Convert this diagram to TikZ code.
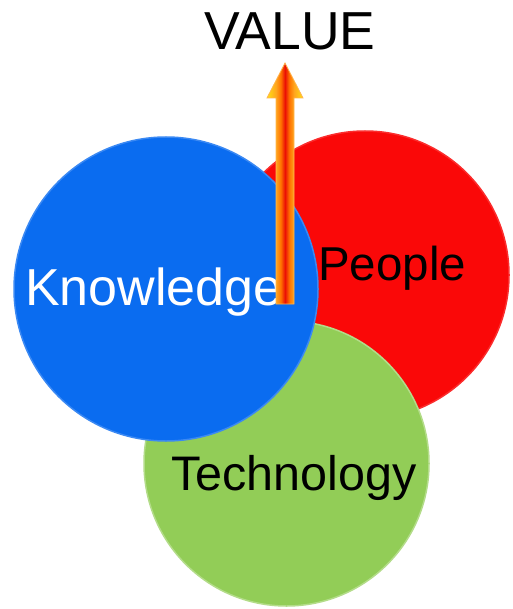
\documentclass[tikz,border=0pt]{standalone}
\usepackage{fontspec}
\setmainfont{Liberation Sans}
\definecolor{kblue}{RGB}{10,108,240}
\definecolor{pred}{RGB}{250,8,8}
\definecolor{tgreen}{RGB}{146,205,87}
\definecolor{arryellow}{RGB}{255,225,20}
\definecolor{arrorange}{RGB}{255,165,30}
\definecolor{arrdeep}{RGB}{255,115,0}
\definecolor{arrred}{RGB}{235,15,5}
\definecolor{arredge}{RGB}{255,180,80}
\pgfdeclarehorizontalshading{arrowshade}{100bp}{color(0bp)=(arryellow); color(25bp)=(arryellow); color(37.5bp)=(arrorange); color(44bp)=(arrdeep); color(50bp)=(arrred); color(56bp)=(arrdeep); color(62.5bp)=(arrorange); color(75bp)=(arryellow); color(100bp)=(arryellow)}
\begin{document}
\begin{tikzpicture}[x=1pt,y=-1pt,
  ball/.style={circle, inner sep=0pt, line width=1.5pt},
  lbl/.style={inner sep=0pt, anchor=base west}]
\useasboundingbox (0,0) rectangle (512,609);
% circles
\node[ball, fill=pred, draw=pred!85!white, minimum size=288pt] (people) at (365,275) {};
\node[ball, fill=tgreen, draw=tgreen!70!white, minimum size=285pt] (tech) at (286.5,463.5) {};
\node[ball, fill=kblue, draw=kblue!80!white, minimum size=304pt] (know) at (166,289) {};
% labels
\node[lbl, text=white, font=\fontsize{52}{60}\selectfont] (knowtxt) at (25,305) {Knowledge};
\node[lbl, font=\fontsize{47.5}{56}\selectfont] (peopletxt) at (318,280) {People};
\node[lbl, font=\fontsize{48.5}{56}\selectfont] (techtxt) at (171,490) {Technology};
\node[lbl, font=\fontsize{53.5}{60}\selectfont] (value) at (204,50) {VALUE};
% arrow
\shade[shading=arrowshade, draw=arredge, line width=0.8pt]
  (276,304) -- (276,98) -- (267,98) -- (285,63) -- (303,98) -- (294,98) -- (294,304) -- cycle;
\end{tikzpicture}
\end{document}
